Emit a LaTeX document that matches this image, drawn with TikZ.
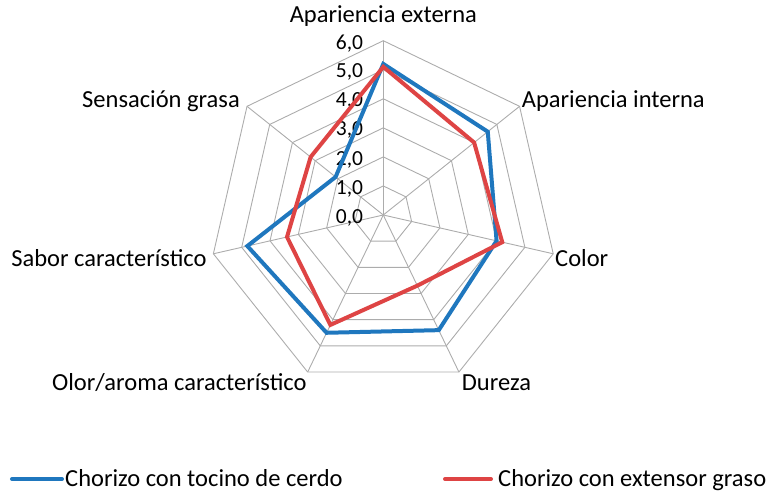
\documentclass[tikz,border=0pt]{standalone}
\usepackage{fontspec}
\setmainfont{Carlito}
\definecolor{serieA}{RGB}{31,119,190}
\definecolor{serieB}{RGB}{222,68,68}
\begin{document}
\begin{tikzpicture}[x=1pt,y=1pt,
    gridline/.style={gray!65, line width=0.9pt},
    serie/.style={line width=4pt, line join=miter},
    lbl/.style={inner sep=0pt, font=\fontsize{24.5}{29}\selectfont},
    tick/.style={inner sep=0pt, anchor=east, font=\fontsize{21.5}{25}\selectfont}]
        \useasboundingbox (-383.3,-278) rectangle (385.7,215);
        \def\u{29.05}
        % rejilla
        \foreach \v in {1,...,6}
            \draw[gridline] (90:\v*\u) \foreach \k in {1,...,6} {-- ({90-\k*360/7}:\v*\u)} -- cycle;
        \foreach \k in {0,...,6} \draw[gridline] (0,0) -- ({90-\k*360/7}:6*\u);
        \foreach \v in {0,...,6} \node[tick] (t\v) at (-20,\v*\u-2.5) {\v,0};
        % series
        \draw[serie, serieA] (90:5.2*\u) -- ({90-360/7}:4.6*\u) -- ({90-2*360/7}:4.0*\u)
            -- ({90-3*360/7}:4.4*\u) -- ({90-4*360/7}:4.5*\u) -- ({90-5*360/7}:4.8*\u)
            -- ({90-6*360/7}:2.1*\u) -- cycle;
        \draw[serie, serieB] (90:5.1*\u) -- ({90-360/7}:4.0*\u) -- ({90-2*360/7}:4.2*\u)
            -- ({90-3*360/7}:2.7*\u) -- ({90-4*360/7}:4.2*\u) -- ({90-5*360/7}:3.4*\u)
            -- ({90-6*360/7}:3.2*\u) -- cycle;
        % ejes
        \node[lbl, anchor=base] (ext) at (0,192) {Apariencia externa};
        \node[lbl, anchor=base west] (int) at (138.4,108) {Apariencia interna};
        \node[lbl, anchor=base west] (col) at (171.7,-51) {Color};
        \node[lbl, anchor=base west] (dur) at (78.4,-175) {Dureza};
        \node[lbl, anchor=base east] (olo) at (-76.6,-175) {Olor/aroma característico};
        \node[lbl, anchor=base east] (sab) at (-176.6,-51) {Sabor característico};
        \node[lbl, anchor=base east] (sen) at (-143.3,108) {Sensación grasa};
        % leyenda
        \draw[serieA, line width=4pt, line cap=round] (-371.3,-264) -- (-321.3,-264);
        \node[lbl, anchor=base west] (legA) at (-318.3,-271.7) {Chorizo con tocino de cerdo};
        \draw[serieB, line width=4pt, line cap=round] (61.7,-264) -- (107.7,-264);
        \node[lbl, anchor=base west] (legB) at (114.7,-271.7) {Chorizo con extensor graso};
    \end{tikzpicture}
\end{document}
